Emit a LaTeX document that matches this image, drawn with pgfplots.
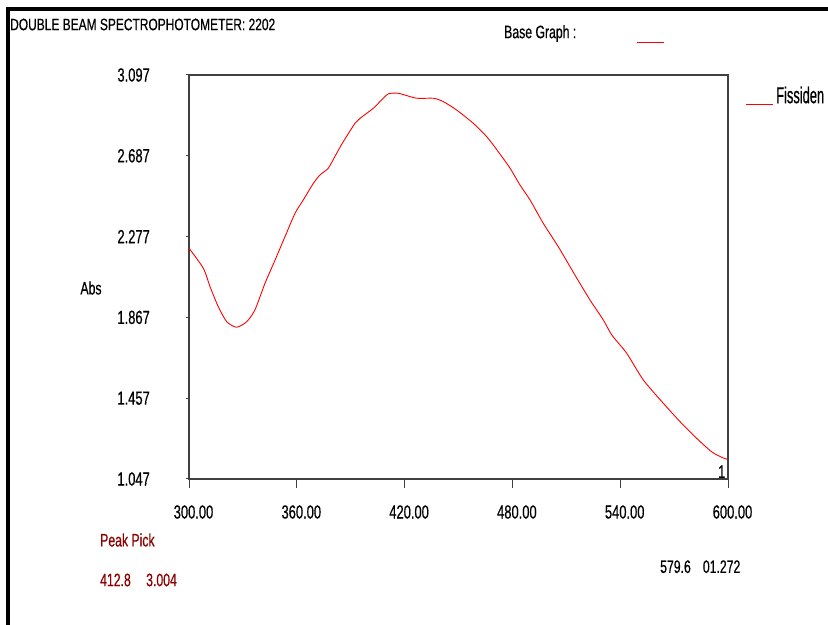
\documentclass[border=0pt]{standalone}
\usepackage{pgfplots}
\pgfplotsset{compat=1.18}
\usepackage{fontspec}
\setmainfont[FakeStretch=0.68, FakeBold=0.5]{Liberation Sans}
\newfontfamily\titlefont[FakeStretch=0.725, FakeBold=0.5]{Liberation Sans}
\newfontfamily\legfont[FakeStretch=0.56, FakeBold=0.5]{Liberation Sans}
\definecolor{darkred}{RGB}{140,0,0}
\definecolor{axgray}{RGB}{64,64,64}
\begin{document}
\begin{tikzpicture}[x=1bp,y=1bp]
\useasboundingbox (0,0) rectangle (828,625);
\fill[white] (0,0) rectangle (828,625);
\fill[black] (8,613.5) rectangle (828,617.5);
\fill[black] (6,0) rectangle (10,617.5);
\begin{axis}[at={(189bp,146bp)}, anchor=south west, scale only axis,
  width=539bp, height=404bp,
  xmin=300, xmax=600, ymin=1.047, ymax=3.097,
  axis line style={axgray, line width=1.2bp},
  xtick={300,360,420,480,540,600},
  xticklabels={300.00,360.00,420.00,480.00,540.00,600.00},
  ytick={1.047,1.457,1.867,2.277,2.687,3.097},
  yticklabels={1.047,1.457,1.867,2.277,2.687,3.097},
  xtick pos=bottom, ytick pos=left,
  tick align=outside, tick style={axgray, line width=1bp},
  major tick length=9bp,
  ytick style={/pgfplots/major tick length=3bp},
  xticklabel style={font=\fontsize{19bp}{22bp}\selectfont, anchor=center, xshift=4.5bp, yshift=-24bp},
  yticklabel style={font=\fontsize{19bp}{22bp}\selectfont, anchor=east, inner sep=0pt, xshift=-30bp},
  clip=false]
\addplot[red, line width=0.9bp, smooth, tension=0.4] table {
x y
300.0 2.218
308.0 2.116
311.7 2.023
316.3 1.921
321.0 1.845
326.5 1.817
332.1 1.845
336.7 1.905
342.3 2.040
347.9 2.158
353.4 2.276
359.0 2.395
363.6 2.463
369.2 2.547
372.9 2.590
377.5 2.624
382.2 2.700
385.9 2.759
392.4 2.852
395.2 2.877
402.6 2.928
406.3 2.962
410.9 3.001
416.5 3.004
426.7 2.979
436.0 2.979
441.5 2.962
449.0 2.919
458.2 2.852
465.7 2.784
472.1 2.708
478.7 2.624
484.2 2.539
489.8 2.463
497.2 2.344
505.5 2.226
514.8 2.082
523.2 1.955
530.6 1.854
535.3 1.778
543.6 1.685
552.9 1.549
564.0 1.431
573.3 1.338
582.6 1.253
590.9 1.185
596.5 1.157
599.6 1.147
};
\end{axis}
\node[anchor=west, inner sep=0pt, font=\titlefont\fontsize{16.5bp}{19bp}\selectfont] at (10,600.5) {DOUBLE BEAM SPECTROPHOTOMETER: 2202};
\node[anchor=west, inner sep=0pt, font=\fontsize{18bp}{21bp}\selectfont] at (504,591.5) {Base Graph :};
\draw[red, line width=1bp] (637,582) -- (664,582);
\draw[red, line width=1bp] (746,520) -- (773,520);
\node[anchor=west, inner sep=0pt, font=\legfont\fontsize{23bp}{26bp}\selectfont] at (776,530) {Fissiden};
\node[inner sep=0pt, font=\fontsize{18bp}{21bp}\selectfont] at (91,337) {Abs};
\node[inner sep=0pt, font=\fontsize{18bp}{21bp}\selectfont] at (721.7,153.3) {1};
\node[anchor=west, inner sep=0pt, text=darkred, font=\fontsize{18bp}{21bp}\selectfont] at (100,85) {Peak Pick};
\node[anchor=west, inner sep=0pt, text=darkred, font=\fontsize{18bp}{21bp}\selectfont] at (100,45) {412.8};
\node[anchor=west, inner sep=0pt, text=darkred, font=\fontsize{18bp}{21bp}\selectfont] at (146,45) {3.004};
\node[anchor=west, inner sep=0pt, font=\fontsize{18bp}{21bp}\selectfont] at (660,58.3) {579.6};
\node[anchor=west, inner sep=0pt, font=\fontsize{18bp}{21bp}\selectfont] at (702.7,58.3) {01.272};
\end{tikzpicture}
\end{document}
